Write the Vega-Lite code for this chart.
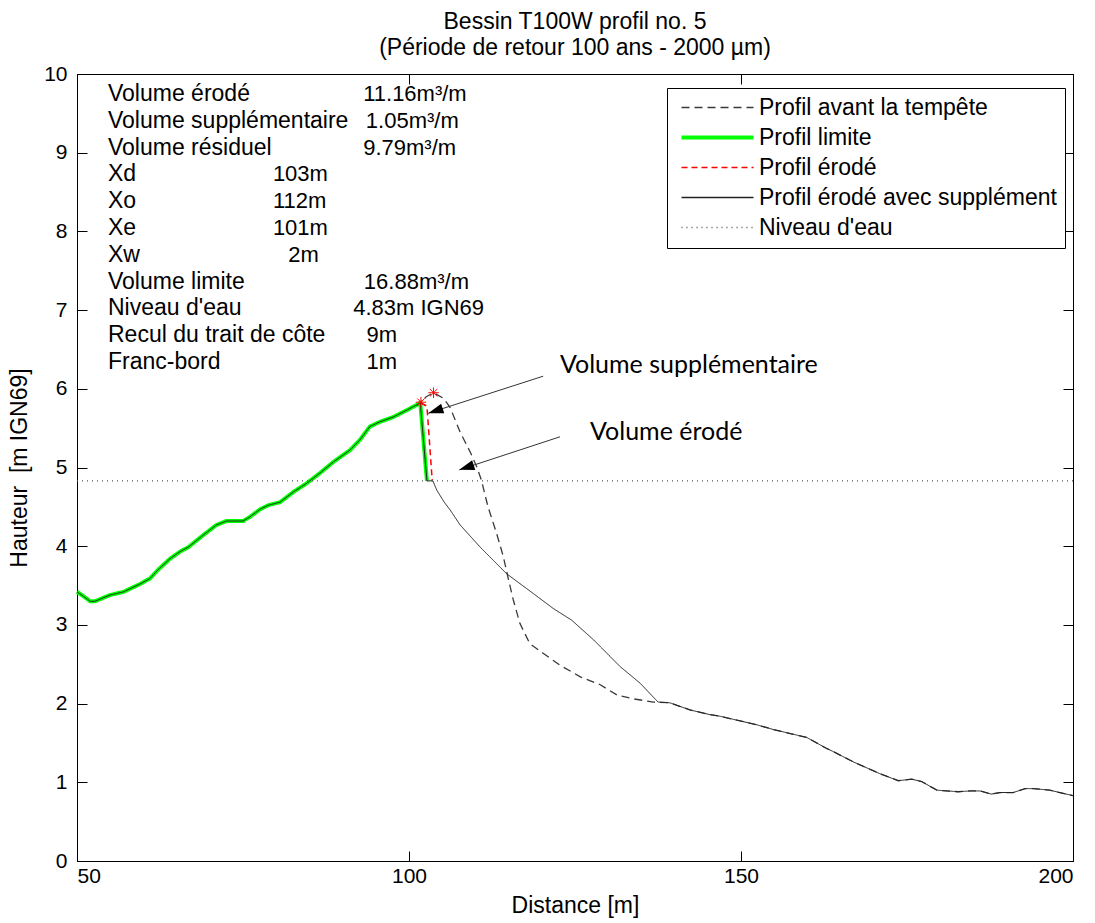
{
  "$schema": "https://vega.github.io/schema/vega-lite/v6.json",
  "width": 996,
  "height": 787,
  "autosize": "none",
  "padding": {"left": 77, "top": 74, "right": 22, "bottom": 62},
  "background": "white",
  "title": {
    "text": ["Bessin T100W profil no. 5", "(Période de retour 100 ans - 2000 µm)"],
    "font": "Liberation Sans",
    "fontSize": 23,
    "fontWeight": "normal",
    "color": "black",
    "anchor": "middle",
    "offset": 3,
    "lineHeight": 26
  },
  "config": {
    "view": {"stroke": "black", "strokeWidth": 1},
    "axis": {
      "grid": false,
      "domainColor": "black",
      "tickColor": "black",
      "labelColor": "black",
      "labelFont": "Liberation Sans",
      "labelFontSize": 21,
      "titleFont": "Liberation Sans",
      "titleFontSize": 23,
      "titleFontWeight": "normal",
      "titleColor": "black",
      "tickSize": -10,
      "tickWidth": 1,
      "domainWidth": 1
    },
    "legend": {
      "orient": "none",
      "legendX": 590,
      "legendY": 14,
      "strokeColor": "black",
      "fillColor": "white",
      "padding": 8,
      "symbolType": "M-8,0L8,0",
      "symbolSize": 81,
      "symbolOffset": 31,
      "labelOffset": 30,
      "labelFont": "Liberation Sans",
      "labelFontSize": 23,
      "labelColor": "black",
      "labelLimit": 500,
      "rowPadding": 6,
      "title": null
    }
  },
  "datasets": {
    "profiles": [
      {"series": "Profil avant la tempête", "x": 50, "y": 3.42},
      {"series": "Profil avant la tempête", "x": 50.7, "y": 3.38},
      {"series": "Profil avant la tempête", "x": 52, "y": 3.3},
      {"series": "Profil avant la tempête", "x": 52.7, "y": 3.3},
      {"series": "Profil avant la tempête", "x": 55, "y": 3.38},
      {"series": "Profil avant la tempête", "x": 57, "y": 3.42},
      {"series": "Profil avant la tempête", "x": 59.5, "y": 3.52},
      {"series": "Profil avant la tempête", "x": 61, "y": 3.59},
      {"series": "Profil avant la tempête", "x": 62.2, "y": 3.7},
      {"series": "Profil avant la tempête", "x": 64, "y": 3.84},
      {"series": "Profil avant la tempête", "x": 65.5, "y": 3.93},
      {"series": "Profil avant la tempête", "x": 66.8, "y": 3.99},
      {"series": "Profil avant la tempête", "x": 69, "y": 4.14},
      {"series": "Profil avant la tempête", "x": 71, "y": 4.27},
      {"series": "Profil avant la tempête", "x": 72.5, "y": 4.32},
      {"series": "Profil avant la tempête", "x": 75, "y": 4.32},
      {"series": "Profil avant la tempête", "x": 76, "y": 4.37},
      {"series": "Profil avant la tempête", "x": 77.6, "y": 4.47},
      {"series": "Profil avant la tempête", "x": 78.8, "y": 4.52},
      {"series": "Profil avant la tempête", "x": 80.6, "y": 4.56},
      {"series": "Profil avant la tempête", "x": 82.6, "y": 4.69},
      {"series": "Profil avant la tempête", "x": 84.6, "y": 4.8},
      {"series": "Profil avant la tempête", "x": 86.6, "y": 4.93},
      {"series": "Profil avant la tempête", "x": 88.6, "y": 5.07},
      {"series": "Profil avant la tempête", "x": 91.1, "y": 5.22},
      {"series": "Profil avant la tempête", "x": 92.6, "y": 5.35},
      {"series": "Profil avant la tempête", "x": 94.1, "y": 5.52},
      {"series": "Profil avant la tempête", "x": 95.6, "y": 5.58},
      {"series": "Profil avant la tempête", "x": 97.6, "y": 5.64},
      {"series": "Profil avant la tempête", "x": 99.7, "y": 5.73},
      {"series": "Profil avant la tempête", "x": 101.7, "y": 5.82},
      {"series": "Profil avant la tempête", "x": 102.6, "y": 5.9},
      {"series": "Profil avant la tempête", "x": 103.7, "y": 5.95},
      {"series": "Profil avant la tempête", "x": 105.2, "y": 5.88},
      {"series": "Profil avant la tempête", "x": 106.2, "y": 5.76},
      {"series": "Profil avant la tempête", "x": 107.7, "y": 5.45},
      {"series": "Profil avant la tempête", "x": 109.2, "y": 5.2},
      {"series": "Profil avant la tempête", "x": 110.2, "y": 5.01},
      {"series": "Profil avant la tempête", "x": 110.9, "y": 4.84},
      {"series": "Profil avant la tempête", "x": 111.9, "y": 4.5},
      {"series": "Profil avant la tempête", "x": 113.2, "y": 4.16},
      {"series": "Profil avant la tempête", "x": 114.2, "y": 3.87},
      {"series": "Profil avant la tempête", "x": 115, "y": 3.57},
      {"series": "Profil avant la tempête", "x": 115.7, "y": 3.32},
      {"series": "Profil avant la tempête", "x": 116.7, "y": 3.02},
      {"series": "Profil avant la tempête", "x": 118.2, "y": 2.76},
      {"series": "Profil avant la tempête", "x": 120.2, "y": 2.64},
      {"series": "Profil avant la tempête", "x": 122.7, "y": 2.49},
      {"series": "Profil avant la tempête", "x": 125.8, "y": 2.34},
      {"series": "Profil avant la tempête", "x": 128.8, "y": 2.24},
      {"series": "Profil avant la tempête", "x": 131.3, "y": 2.11},
      {"series": "Profil avant la tempête", "x": 133.8, "y": 2.06},
      {"series": "Profil avant la tempête", "x": 136.8, "y": 2.02},
      {"series": "Profil avant la tempête", "x": 139.3, "y": 2.01},
      {"series": "Profil avant la tempête", "x": 142.3, "y": 1.92},
      {"series": "Profil avant la tempête", "x": 145.3, "y": 1.86},
      {"series": "Profil avant la tempête", "x": 146.8, "y": 1.84},
      {"series": "Profil avant la tempête", "x": 150.9, "y": 1.76},
      {"series": "Profil avant la tempête", "x": 152.4, "y": 1.73},
      {"series": "Profil avant la tempête", "x": 154.9, "y": 1.67},
      {"series": "Profil avant la tempête", "x": 157.9, "y": 1.61},
      {"series": "Profil avant la tempête", "x": 159.9, "y": 1.57},
      {"series": "Profil avant la tempête", "x": 162.9, "y": 1.43},
      {"series": "Profil avant la tempête", "x": 163.9, "y": 1.39},
      {"series": "Profil avant la tempête", "x": 166.9, "y": 1.26},
      {"series": "Profil avant la tempête", "x": 170.9, "y": 1.11},
      {"series": "Profil avant la tempête", "x": 173.7, "y": 1.02},
      {"series": "Profil avant la tempête", "x": 175.7, "y": 1.04},
      {"series": "Profil avant la tempête", "x": 177.2, "y": 1.01},
      {"series": "Profil avant la tempête", "x": 179.5, "y": 0.9},
      {"series": "Profil avant la tempête", "x": 182.7, "y": 0.88},
      {"series": "Profil avant la tempête", "x": 184.5, "y": 0.89},
      {"series": "Profil avant la tempête", "x": 186, "y": 0.89},
      {"series": "Profil avant la tempête", "x": 187.7, "y": 0.85},
      {"series": "Profil avant la tempête", "x": 189, "y": 0.87},
      {"series": "Profil avant la tempête", "x": 191, "y": 0.87},
      {"series": "Profil avant la tempête", "x": 192.8, "y": 0.92},
      {"series": "Profil avant la tempête", "x": 194, "y": 0.92},
      {"series": "Profil avant la tempête", "x": 196.5, "y": 0.9},
      {"series": "Profil avant la tempête", "x": 200, "y": 0.83},

      {"series": "Profil limite", "x": 50, "y": 3.42},
      {"series": "Profil limite", "x": 50.7, "y": 3.38},
      {"series": "Profil limite", "x": 52, "y": 3.3},
      {"series": "Profil limite", "x": 52.7, "y": 3.3},
      {"series": "Profil limite", "x": 55, "y": 3.38},
      {"series": "Profil limite", "x": 57, "y": 3.42},
      {"series": "Profil limite", "x": 59.5, "y": 3.52},
      {"series": "Profil limite", "x": 61, "y": 3.59},
      {"series": "Profil limite", "x": 62.2, "y": 3.7},
      {"series": "Profil limite", "x": 64, "y": 3.84},
      {"series": "Profil limite", "x": 65.5, "y": 3.93},
      {"series": "Profil limite", "x": 66.8, "y": 3.99},
      {"series": "Profil limite", "x": 69, "y": 4.14},
      {"series": "Profil limite", "x": 71, "y": 4.27},
      {"series": "Profil limite", "x": 72.5, "y": 4.32},
      {"series": "Profil limite", "x": 75, "y": 4.32},
      {"series": "Profil limite", "x": 76, "y": 4.37},
      {"series": "Profil limite", "x": 77.6, "y": 4.47},
      {"series": "Profil limite", "x": 78.8, "y": 4.52},
      {"series": "Profil limite", "x": 80.6, "y": 4.56},
      {"series": "Profil limite", "x": 82.6, "y": 4.69},
      {"series": "Profil limite", "x": 84.6, "y": 4.8},
      {"series": "Profil limite", "x": 86.6, "y": 4.93},
      {"series": "Profil limite", "x": 88.6, "y": 5.07},
      {"series": "Profil limite", "x": 91.1, "y": 5.22},
      {"series": "Profil limite", "x": 92.6, "y": 5.35},
      {"series": "Profil limite", "x": 94.1, "y": 5.52},
      {"series": "Profil limite", "x": 95.6, "y": 5.58},
      {"series": "Profil limite", "x": 97.6, "y": 5.64},
      {"series": "Profil limite", "x": 99.7, "y": 5.73},
      {"series": "Profil limite", "x": 101.7, "y": 5.82},
      {"series": "Profil limite", "x": 102.7, "y": 4.83},

      {"series": "Profil érodé", "x": 101.8, "y": 5.82},
      {"series": "Profil érodé", "x": 102.7, "y": 5.78},
      {"series": "Profil érodé", "x": 103.5, "y": 4.83},

      {"series": "Profil érodé avec supplément", "x": 50, "y": 3.42},
      {"series": "Profil érodé avec supplément", "x": 50.7, "y": 3.38},
      {"series": "Profil érodé avec supplément", "x": 52, "y": 3.3},
      {"series": "Profil érodé avec supplément", "x": 52.7, "y": 3.3},
      {"series": "Profil érodé avec supplément", "x": 55, "y": 3.38},
      {"series": "Profil érodé avec supplément", "x": 57, "y": 3.42},
      {"series": "Profil érodé avec supplément", "x": 59.5, "y": 3.52},
      {"series": "Profil érodé avec supplément", "x": 61, "y": 3.59},
      {"series": "Profil érodé avec supplément", "x": 62.2, "y": 3.7},
      {"series": "Profil érodé avec supplément", "x": 64, "y": 3.84},
      {"series": "Profil érodé avec supplément", "x": 65.5, "y": 3.93},
      {"series": "Profil érodé avec supplément", "x": 66.8, "y": 3.99},
      {"series": "Profil érodé avec supplément", "x": 69, "y": 4.14},
      {"series": "Profil érodé avec supplément", "x": 71, "y": 4.27},
      {"series": "Profil érodé avec supplément", "x": 72.5, "y": 4.32},
      {"series": "Profil érodé avec supplément", "x": 75, "y": 4.32},
      {"series": "Profil érodé avec supplément", "x": 76, "y": 4.37},
      {"series": "Profil érodé avec supplément", "x": 77.6, "y": 4.47},
      {"series": "Profil érodé avec supplément", "x": 78.8, "y": 4.52},
      {"series": "Profil érodé avec supplément", "x": 80.6, "y": 4.56},
      {"series": "Profil érodé avec supplément", "x": 82.6, "y": 4.69},
      {"series": "Profil érodé avec supplément", "x": 84.6, "y": 4.8},
      {"series": "Profil érodé avec supplément", "x": 86.6, "y": 4.93},
      {"series": "Profil érodé avec supplément", "x": 88.6, "y": 5.07},
      {"series": "Profil érodé avec supplément", "x": 91.1, "y": 5.22},
      {"series": "Profil érodé avec supplément", "x": 92.6, "y": 5.35},
      {"series": "Profil érodé avec supplément", "x": 94.1, "y": 5.52},
      {"series": "Profil érodé avec supplément", "x": 95.6, "y": 5.58},
      {"series": "Profil érodé avec supplément", "x": 97.6, "y": 5.64},
      {"series": "Profil érodé avec supplément", "x": 99.7, "y": 5.73},
      {"series": "Profil érodé avec supplément", "x": 101.7, "y": 5.82},
      {"series": "Profil érodé avec supplément", "x": 102.7, "y": 4.83},
      {"series": "Profil érodé avec supplément", "x": 103.6, "y": 4.83},
      {"series": "Profil érodé avec supplément", "x": 104.2, "y": 4.71},
      {"series": "Profil érodé avec supplément", "x": 105.3, "y": 4.56},
      {"series": "Profil érodé avec supplément", "x": 106.2, "y": 4.46},
      {"series": "Profil érodé avec supplément", "x": 107.7, "y": 4.27},
      {"series": "Profil érodé avec supplément", "x": 110.7, "y": 3.99},
      {"series": "Profil érodé avec supplément", "x": 112.7, "y": 3.82},
      {"series": "Profil érodé avec supplément", "x": 114.7, "y": 3.65},
      {"series": "Profil érodé avec supplément", "x": 118.7, "y": 3.4},
      {"series": "Profil érodé avec supplément", "x": 121.7, "y": 3.21},
      {"series": "Profil érodé avec supplément", "x": 124.5, "y": 3.06},
      {"series": "Profil érodé avec supplément", "x": 127.8, "y": 2.81},
      {"series": "Profil érodé avec supplément", "x": 131.8, "y": 2.47},
      {"series": "Profil érodé avec supplément", "x": 134.8, "y": 2.26},
      {"series": "Profil érodé avec supplément", "x": 137.5, "y": 2.02},
      {"series": "Profil érodé avec supplément", "x": 139.3, "y": 2.01},
      {"series": "Profil érodé avec supplément", "x": 142.3, "y": 1.92},
      {"series": "Profil érodé avec supplément", "x": 145.3, "y": 1.86},
      {"series": "Profil érodé avec supplément", "x": 146.8, "y": 1.84},
      {"series": "Profil érodé avec supplément", "x": 150.9, "y": 1.76},
      {"series": "Profil érodé avec supplément", "x": 152.4, "y": 1.73},
      {"series": "Profil érodé avec supplément", "x": 154.9, "y": 1.67},
      {"series": "Profil érodé avec supplément", "x": 157.9, "y": 1.61},
      {"series": "Profil érodé avec supplément", "x": 159.9, "y": 1.57},
      {"series": "Profil érodé avec supplément", "x": 162.9, "y": 1.43},
      {"series": "Profil érodé avec supplément", "x": 163.9, "y": 1.39},
      {"series": "Profil érodé avec supplément", "x": 166.9, "y": 1.26},
      {"series": "Profil érodé avec supplément", "x": 170.9, "y": 1.11},
      {"series": "Profil érodé avec supplément", "x": 173.7, "y": 1.02},
      {"series": "Profil érodé avec supplément", "x": 175.7, "y": 1.04},
      {"series": "Profil érodé avec supplément", "x": 177.2, "y": 1.01},
      {"series": "Profil érodé avec supplément", "x": 179.5, "y": 0.9},
      {"series": "Profil érodé avec supplément", "x": 182.7, "y": 0.88},
      {"series": "Profil érodé avec supplément", "x": 184.5, "y": 0.89},
      {"series": "Profil érodé avec supplément", "x": 186, "y": 0.89},
      {"series": "Profil érodé avec supplément", "x": 187.7, "y": 0.85},
      {"series": "Profil érodé avec supplément", "x": 189, "y": 0.87},
      {"series": "Profil érodé avec supplément", "x": 191, "y": 0.87},
      {"series": "Profil érodé avec supplément", "x": 192.8, "y": 0.92},
      {"series": "Profil érodé avec supplément", "x": 194, "y": 0.92},
      {"series": "Profil érodé avec supplément", "x": 196.5, "y": 0.9},
      {"series": "Profil érodé avec supplément", "x": 200, "y": 0.83},

      {"series": "Niveau d'eau", "x": 50, "y": 4.83},
      {"series": "Niveau d'eau", "x": 200, "y": 4.83}
    ],
    "stars": [
      {"x": 101.8, "y": 5.83},
      {"x": 103.7, "y": 5.95}
    ],
    "arrows": [
      {"label": "Volume supplémentaire", "x": 120.2, "y": 6.16, "x2": 102.9, "y2": 5.69, "tx": 122.74, "ty": 6.3},
      {"label": "Volume érodé", "x": 122.74, "y": 5.39, "x2": 107.57, "y2": 4.97, "tx": 127.26, "ty": 5.45}
    ],
    "info": [
      {"label": "Volume érodé", "value": "11.16m³/m", "y": 9.746, "lx": 54.67, "vx": 93.1},
      {"label": "Volume supplémentaire", "value": "1.05m³/m", "y": 9.405, "lx": 54.67, "vx": 93.5},
      {"label": "Volume résiduel", "value": "9.79m³/m", "y": 9.065, "lx": 54.67, "vx": 93.1},
      {"label": "Xd", "value": "103m", "y": 8.724, "lx": 54.67, "vx": 79.5},
      {"label": "Xo", "value": "112m", "y": 8.384, "lx": 54.67, "vx": 79.5},
      {"label": "Xe", "value": "101m", "y": 8.043, "lx": 54.67, "vx": 79.5},
      {"label": "Xw", "value": "2m", "y": 7.703, "lx": 54.67, "vx": 81.8},
      {"label": "Volume limite", "value": "16.88m³/m", "y": 7.362, "lx": 54.67, "vx": 93.2},
      {"label": "Niveau d'eau", "value": "4.83m IGN69", "y": 7.022, "lx": 54.67, "vx": 91.6},
      {"label": "Recul du trait de côte", "value": "9m", "y": 6.681, "lx": 54.67, "vx": 93.6},
      {"label": "Franc-bord", "value": "1m", "y": 6.341, "lx": 54.67, "vx": 93.6}
    ]
  },
  "layer": [
    {
      "encoding": {
        "x": {"field": "x", "type": "quantitative", "scale": {"domain": [50, 200], "nice": false, "zero": false},
              "axis": {"values": [50, 100, 150, 200], "title": "Distance [m]", "labelPadding": 14, "titlePadding": 8}},
        "y": {"field": "y", "type": "quantitative", "scale": {"domain": [0, 10], "nice": false, "zero": false},
              "axis": {"values": [0, 1, 2, 3, 4, 5, 6, 7, 8, 9, 10], "title": "Hauteur\u00a0 [m IGN69]", "labelPadding": 20, "titlePadding": 12}}
      },
      "layer": [
        {
          "data": {"name": "profiles"},
          "transform": [{"filter": {"field": "series", "equal": "Profil avant la tempête"}}],
          "mark": {"type": "line", "interpolate": "linear", "strokeWidth": 1.3},
          "encoding": {
            "color": {"field": "series", "type": "nominal",
                      "scale": {"domain": ["Profil avant la tempête", "Profil limite", "Profil érodé", "Profil érodé avec supplément", "Niveau d'eau"], "range": ["#3a3a3a", "#00ff00", "#ff0000", "#222222", "#555555"]},
                      "legend": {"encode": {"symbols": {"update": {
                        "stroke": {"signal": "datum.value === 'Profil limite' ? '#00ff00' : datum.value === 'Profil érodé' ? '#ff0000' : datum.value === \"Niveau d'eau\" ? '#555555' : '#111111'"},
                        "strokeWidth": {"signal": "datum.value === 'Profil limite' ? 4 : 1.3"}}}}}},
            "strokeDash": {"field": "series", "type": "nominal",
                           "scale": {"domain": ["Profil avant la tempête", "Profil limite", "Profil érodé", "Profil érodé avec supplément", "Niveau d'eau"], "range": [[8, 5], [1, 0], [6, 4], [1, 0], [1, 4]]}}
          }
        },
        {
          "data": {"name": "profiles"},
          "transform": [{"filter": {"field": "series", "equal": "Profil limite"}}],
          "mark": {"type": "line", "interpolate": "linear", "strokeWidth": 4},
          "encoding": {
            "color": {"field": "series", "type": "nominal"},
            "strokeDash": {"field": "series", "type": "nominal"}
          }
        },
        {
          "data": {"name": "profiles"},
          "transform": [{"filter": {"field": "series", "equal": "Profil érodé"}}],
          "mark": {"type": "line", "interpolate": "linear", "strokeWidth": 1.5},
          "encoding": {
            "color": {"field": "series", "type": "nominal"},
            "strokeDash": {"field": "series", "type": "nominal"}
          }
        },
        {
          "data": {"name": "profiles"},
          "transform": [{"filter": {"field": "series", "equal": "Profil érodé avec supplément"}}],
          "mark": {"type": "line", "interpolate": "linear", "strokeWidth": 1},
          "encoding": {
            "color": {"field": "series", "type": "nominal"},
            "strokeDash": {"field": "series", "type": "nominal"}
          }
        },
        {
          "data": {"name": "profiles"},
          "transform": [{"filter": {"field": "series", "equal": "Niveau d'eau"}}],
          "mark": {"type": "line", "interpolate": "linear", "strokeWidth": 1.2},
          "encoding": {
            "color": {"field": "series", "type": "nominal"},
            "strokeDash": {"field": "series", "type": "nominal"}
          }
        },
        {
          "data": {"name": "stars"},
          "mark": {"type": "point", "shape": "M-1,0L1,0M0,-1L0,1M-0.7,-0.7L0.7,0.7M-0.7,0.7L0.7,-0.7", "filled": false, "stroke": "#ff0000", "strokeWidth": 1, "size": 110, "opacity": 1}
        },
        {
          "data": {"name": "arrows"},
          "mark": {"type": "rule", "color": "#333333", "strokeWidth": 1},
          "encoding": {"x2": {"field": "x2"}, "y2": {"field": "y2"}}
        },
        {
          "data": {"name": "arrows"},
          "mark": {"type": "point", "shape": "M0,0L0.8,2.4L-0.8,2.4Z", "filled": true, "color": "black", "size": 160, "angle": 252, "opacity": 1},
          "encoding": {"x": {"field": "x2", "type": "quantitative"}, "y": {"field": "y2", "type": "quantitative"}}
        },
        {
          "data": {"name": "arrows"},
          "mark": {"type": "text", "font": "Lato", "fontSize": 25, "align": "left", "baseline": "middle", "color": "black"},
          "encoding": {"x": {"field": "tx", "type": "quantitative"}, "y": {"field": "ty", "type": "quantitative"}, "text": {"field": "label"}}
        },
        {
          "data": {"name": "info"},
          "mark": {"type": "text", "font": "Liberation Sans", "fontSize": 23, "align": "left", "baseline": "middle", "color": "black"},
          "encoding": {"x": {"field": "lx", "type": "quantitative"}, "y": {"field": "y", "type": "quantitative"}, "text": {"field": "label"}}
        },
        {
          "data": {"name": "info"},
          "mark": {"type": "text", "font": "Liberation Sans", "fontSize": 22, "align": "left", "baseline": "middle", "color": "black"},
          "encoding": {"x": {"field": "vx", "type": "quantitative"}, "y": {"field": "y", "type": "quantitative"}, "text": {"field": "value"}}
        }
      ]
    },
    {
      "data": {"name": "stars"},
      "mark": {"type": "point", "opacity": 0},
      "encoding": {
        "x": {"field": "x", "type": "quantitative", "scale": {"domain": [50, 200], "nice": false, "zero": false},
              "axis": {"orient": "top", "values": [50, 100, 150, 200], "labels": false, "title": null}},
        "y": {"field": "y", "type": "quantitative", "scale": {"domain": [0, 10], "nice": false, "zero": false},
              "axis": {"orient": "right", "values": [0, 1, 2, 3, 4, 5, 6, 7, 8, 9, 10], "labels": false, "title": null}}
      }
    }
  ],
  "resolve": {"axis": {"x": "independent", "y": "independent"}}
}
